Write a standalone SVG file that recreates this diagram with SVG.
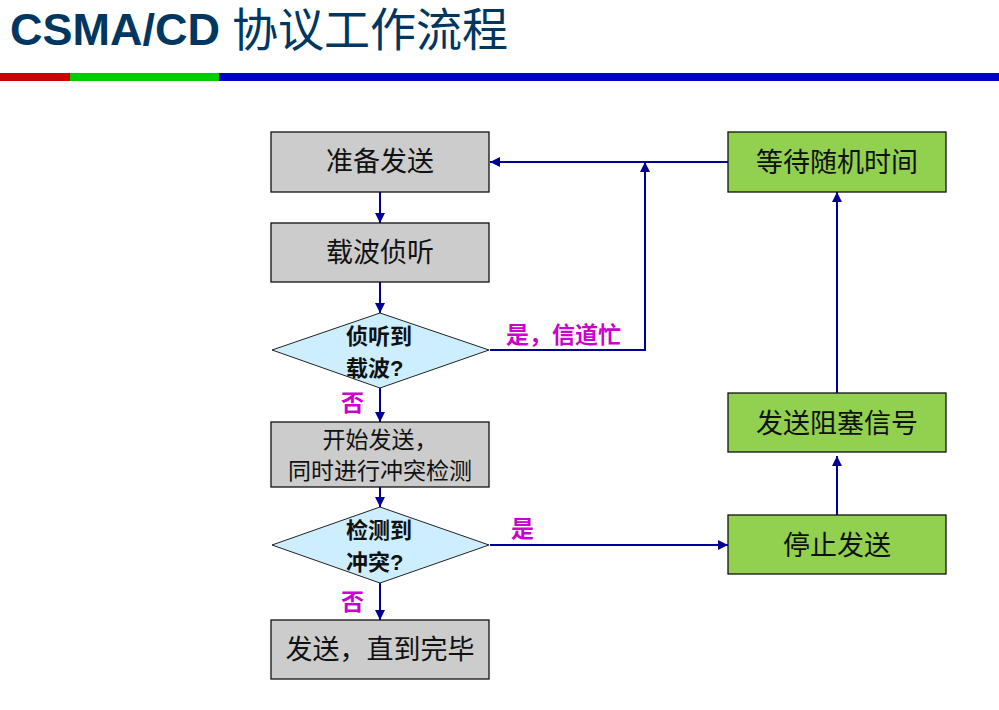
<svg xmlns="http://www.w3.org/2000/svg" width="999" height="710" viewBox="0 0 999 710">
<defs>
<marker id="ah" viewBox="0 0 10 10" refX="10" refY="5" markerWidth="10" markerHeight="10" markerUnits="userSpaceOnUse" orient="auto">
<path d="M0,0 L10,5 L0,10 Z" fill="#000099"/>
</marker>
<style>
.box{fill:#CCCCCC;stroke:#111;stroke-width:1.3}
.gbox{fill:#92D050;stroke:#111;stroke-width:1.3}
.dia{fill:#CCEEFF;stroke:#222;stroke-width:1}
.t{font-family:"Liberation Sans","Noto Sans CJK SC",sans-serif;fill:#111;text-anchor:middle;dominant-baseline:central}
.big{font-size:27px}
.mid{font-size:23px}
.dt{font-family:"Liberation Sans","Noto Sans CJK SC",sans-serif;font-weight:bold;font-size:22px;fill:#111;dominant-baseline:central}
.lab{font-family:"Liberation Sans","Noto Sans CJK SC",sans-serif;font-weight:bold;font-size:23px;fill:#CC00CC;dominant-baseline:central}
.c{fill:none;stroke:#000099;stroke-width:2}
</style>
</defs>
<rect width="999" height="710" fill="#fff"/>
<g id="title">
<text x="10" y="45" font-family="Liberation Sans,sans-serif" font-weight="bold" font-size="45" fill="#003760">CSMA/CD</text>
<text x="232" y="46" font-family="Noto Sans CJK SC,sans-serif" font-size="46" fill="#003760">协议工作流程</text>
<rect x="0" y="73" width="70" height="8" fill="#CC0000"/>
<rect x="70" y="73" width="149" height="8" fill="#00CC00"/>
<rect x="219" y="73" width="780" height="8" fill="#0000CC"/>
</g>
<g id="connectors">
<line class="c" x1="380" y1="192" x2="380" y2="223" marker-end="url(#ah)"/>
<line class="c" x1="380" y1="282" x2="380" y2="313" marker-end="url(#ah)"/>
<line class="c" x1="380" y1="388" x2="380" y2="422" marker-end="url(#ah)"/>
<line class="c" x1="380" y1="487" x2="380" y2="507" marker-end="url(#ah)"/>
<line class="c" x1="380" y1="583" x2="380" y2="620" marker-end="url(#ah)"/>
<polyline class="c" points="490,350 645,350 645,162" marker-end="url(#ah)"/>
<line class="c" x1="728" y1="162" x2="490" y2="162" marker-end="url(#ah)"/>
<line class="c" x1="490" y1="545" x2="728" y2="545" marker-end="url(#ah)"/>
<line class="c" x1="837" y1="515" x2="837" y2="456" marker-end="url(#ah)"/>
<line class="c" x1="837" y1="393" x2="837" y2="192" marker-end="url(#ah)"/>
<text class="lab" x="506" y="335">是，信道忙</text>
<text class="lab" x="341" y="403">否</text>
<text class="lab" x="511" y="529">是</text>
<text class="lab" x="341" y="602">否</text>
</g>
<g id="n1"><rect class="box" x="271" y="132" width="218" height="60"/><text class="t big" x="380" y="162">准备发送</text></g>
<g id="n2"><rect class="box" x="271" y="223" width="218" height="59"/><text class="t big" x="380" y="253">载波侦听</text></g>
<g id="n3"><polygon class="dia" points="272,350 380,313 489,350 380,388"/><text class="dt" x="346" y="336">侦听到</text><text class="dt" x="346" y="368">载波?</text></g>
<g id="n4"><rect class="box" x="271" y="422" width="218" height="65"/><text class="t mid" x="380" y="440">开始发送，</text><text class="t mid" x="380" y="471">同时进行冲突检测</text></g>
<g id="n5"><polygon class="dia" points="272,545 380,507 489,545 380,583"/><text class="dt" x="346" y="530">检测到</text><text class="dt" x="346" y="562">冲突?</text></g>
<g id="n6"><rect class="box" x="271" y="620" width="218" height="59"/><text class="t big" x="380" y="650">发送，直到完毕</text></g>
<g id="n7"><rect class="gbox" x="728" y="132" width="218" height="60"/><text class="t big" x="837" y="163">等待随机时间</text></g>
<g id="n8"><rect class="gbox" x="728" y="393" width="218" height="59"/><text class="t big" x="837" y="424">发送阻塞信号</text></g>
<g id="n9"><rect class="gbox" x="728" y="515" width="218" height="59"/><text class="t big" x="837" y="546">停止发送</text></g>
</svg>
